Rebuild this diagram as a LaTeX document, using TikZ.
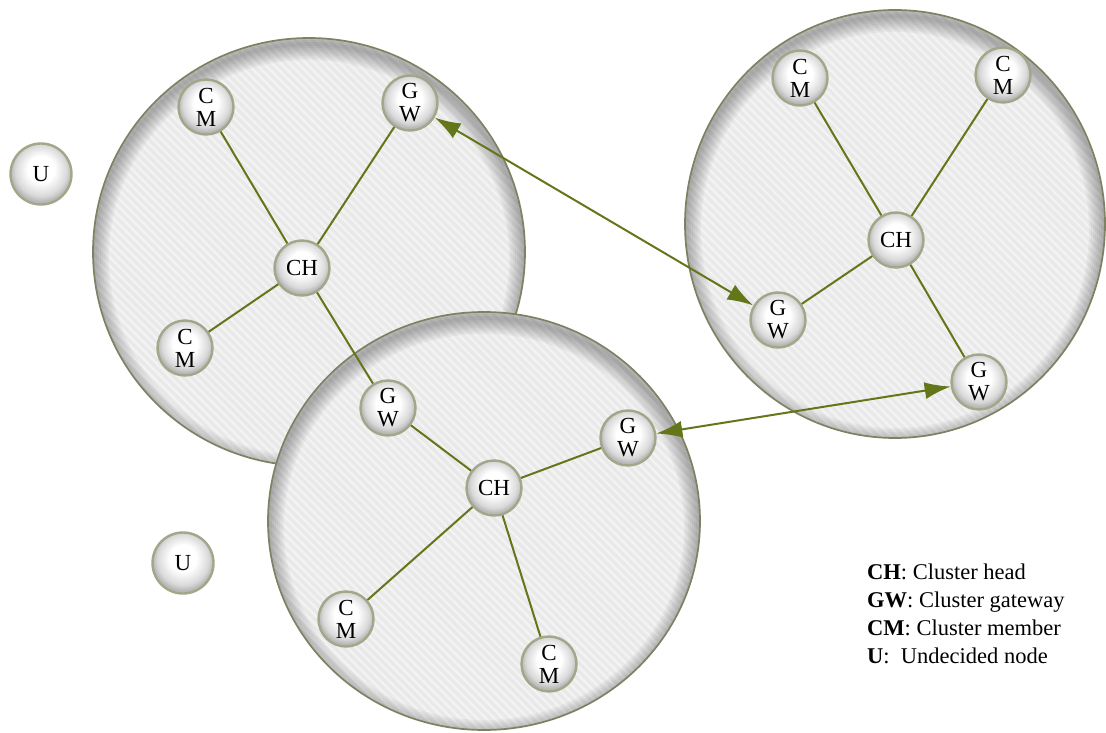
\documentclass[tikz,border=0pt]{standalone}
\usepackage{fontspec}
\setmainfont{Liberation Serif}
\usetikzlibrary{arrows.meta,patterns.meta}
\definecolor{wsnOlive}{HTML}{63761A}
\definecolor{wsnRim}{HTML}{7E8162}
\definecolor{wsnRing}{HTML}{A3A688}
\definecolor{wsnFill}{HTML}{E9E9E9}
\definecolor{wsnStripe}{HTML}{F3F3F3}
\definecolor{wsnShade}{HTML}{ABABAB}
\pgfdeclareradialshading{wsnball}{\pgfpoint{0bp}{5bp}}{color(0bp)=(white); color(11bp)=(white); color(21bp)=(wsnShade!45!white); color(25bp)=(wsnShade!85!white); color(50bp)=(wsnShade!85!white)}
\tikzset{
    cluster/.style={draw=wsnRim, line width=1.7pt},
    clusterfill/.style={fill=wsnFill},
    stripes/.style={pattern={Lines[angle=-45,distance=6pt,line width=2.4pt]}, pattern color=wsnStripe},
    sensor/.style={circle, draw=wsnRing, line width=2.4pt, shading=wsnball, minimum size=55pt, inner sep=0pt, align=center, text=black, font=\fontsize{23}{23}\selectfont},
    undecided/.style={sensor, minimum size=61pt},
    link/.style={draw=wsnOlive, line width=2pt},
    hop/.style={link, {Latex[length=26pt,width=17pt]}-{Latex[length=26pt,width=17pt]}},
    legend/.style={anchor=base west, inner sep=0pt, font=\fontsize{22.5}{24}\selectfont}
}
\begin{document}
\begin{tikzpicture}[x=1pt,y=-1pt]
\useasboundingbox (0,0) rectangle (1106,733);

% clusters (the lower one lies over the upper left one)
\foreach \cx/\cy/\rx/\ry in {309/252/216/214, 895/224/210/214, 484/521/216/209} {
    \fill[clusterfill] (\cx,\cy) ellipse[x radius=\rx, y radius=\ry];
    \fill[stripes] (\cx,\cy) ellipse[x radius=\rx, y radius=\ry];
    \begin{scope}
        \clip (\cx,\cy) ellipse[x radius=\rx, y radius=\ry];
        \foreach \w in {4,8,...,32}
            \draw[black, opacity=0.04, line width=\w pt] (\cx,\cy+6) ellipse[x radius=\rx, y radius=\ry];
    \end{scope}
    \draw[cluster] (\cx,\cy) ellipse[x radius=\rx, y radius=\ry];
}

% upper left cluster
\node[sensor] (ch1) at (302,268) {CH};
\node[sensor] (cm1a) at (206,107) {C\\M};
\node[sensor] (gw1a) at (410,103) {G\\W};
\node[sensor] (cm1b) at (185,348) {C\\M};
\node[sensor] (gw1b) at (388,408) {G\\W};

% right cluster
\node[sensor] (ch2) at (896,240) {CH};
\node[sensor] (cm2a) at (800,78) {C\\M};
\node[sensor] (cm2b) at (1003,75) {C\\M};
\node[sensor] (gw2a) at (778,320) {G\\W};
\node[sensor] (gw2b) at (979,382) {G\\W};

% lower cluster
\node[sensor] (ch3) at (494,488) {CH};
\node[sensor] (gw3) at (628,438) {G\\W};
\node[sensor] (cm3a) at (346,619) {C\\M};
\node[sensor] (cm3b) at (549,664) {C\\M};

% undecided nodes
\node[undecided] (u1) at (41,174) {U};
\node[undecided] (u2) at (183,563) {U};

\draw[link] (ch1) -- (cm1a);
\draw[link] (ch1) -- (gw1a);
\draw[link] (ch1) -- (cm1b);
\draw[link] (ch1) -- (gw1b);
\draw[link] (gw1b) -- (ch3);
\draw[link] (ch3) -- (gw3);
\draw[link] (ch3) -- (cm3a);
\draw[link] (ch3) -- (cm3b);
\draw[link] (ch2) -- (cm2a);
\draw[link] (ch2) -- (cm2b);
\draw[link] (ch2) -- (gw2a);
\draw[link] (ch2) -- (gw2b);

% gateway to gateway
\draw[hop] (gw1a) -- (gw2a);
\draw[hop] (gw3) -- (gw2b);

% legend
\node[legend] (lg1) at (867,579) {\textbf{CH}: Cluster head};
\node[legend] (lg2) at (867,607) {\textbf{GW}: Cluster gateway};
\node[legend] (lg3) at (867,635) {\textbf{CM}: Cluster member};
\node[legend] (lg4) at (867,663) {\textbf{U}:~ Undecided node};
\end{tikzpicture}
\end{document}
